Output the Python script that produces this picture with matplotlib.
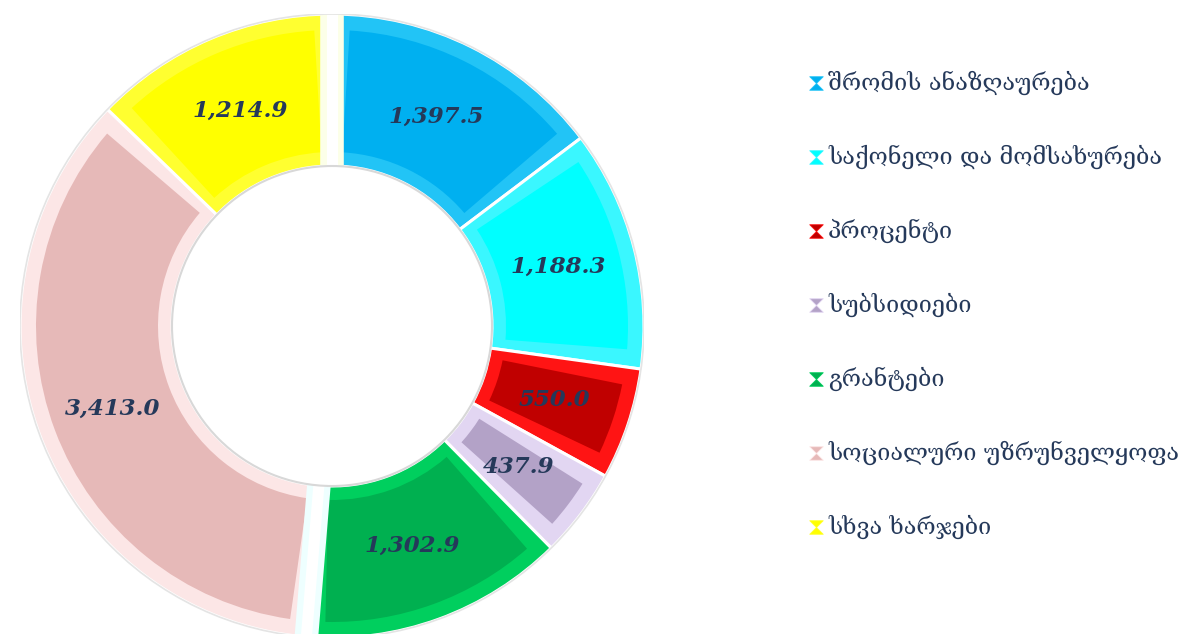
import numpy as np
import matplotlib
matplotlib.use("Agg")
import matplotlib.pyplot as plt
from matplotlib.patches import Wedge, Circle
from matplotlib.path import Path

# ---- data ----
categories = ["შრომის ანაზღაურება", "საქონელი და მომსახურება", "პროცენტი",
              "სუბსიდიები", "გრანტები", "სოციალური უზრუნველყოფა", "სხვა ხარჯები"]
values = [1397.5, 1188.3, 550.0, 437.9, 1302.9, 3413.0, 1214.9]
colors = ["#00B0F0", "#00FFFF", "#C00000", "#B3A2C7", "#00B050", "#E6B9B8", "#FFFF00"]
bevel_colors = ["#22C4F6", "#3AF7FF", "#FF1414", "#E2D6F2", "#00CF5E", "#FCE6E6", "#FFFF30"]
label_color = "#25395A"

W, H, DPI = 1201, 634, 100
fig = plt.figure(figsize=(W / DPI, H / DPI), dpi=DPI)
fig.patch.set_facecolor("white")

# pie axes: centre (332, 326) px from top-left, radius 312 px
cx, cy, Rpx = 332, 326, 312
ax = fig.add_axes([(cx - Rpx) / W, (H - cy - Rpx) / H, 2 * Rpx / W, 2 * Rpx / H])

r_in = 160 / Rpx
ring_w = 1 - r_in
wedges, _ = ax.pie(values, colors=bevel_colors, startangle=90, counterclock=False,
                   radius=1.0, wedgeprops=dict(width=ring_w, edgecolor="white", linewidth=2.2))
ax.set_xlim(-1, 1)
ax.set_ylim(-1, 1)
ax.set_aspect("equal")
ax.axis("off")

out_b = 16 / Rpx
in_b = 14 / Rpx
side_px = 14
for w, c in zip(wedges, colors):
    t1, t2 = w.theta1, w.theta2
    d = np.degrees(side_px / (0.75 * Rpx))
    ax.add_patch(Wedge((0, 0), 1 - out_b, t1 + d, t2 - d,
                       width=1 - out_b - (r_in + in_b), facecolor=c, edgecolor="none", zorder=3))

# highlight strips (3-D side faces) at two boundaries
for idx, sc in [(0, "#FCFFE8"), (5, "#EEFFFF")]:
    th = np.radians(wedges[idx].theta2)
    ax.plot([r_in * np.cos(th), np.cos(th)], [r_in * np.sin(th), np.sin(th)],
            color=sc, lw=17, solid_capstyle="butt", zorder=4)
    ax.plot([r_in * np.cos(th), np.cos(th)], [r_in * np.sin(th), np.sin(th)],
            color="white", lw=8, solid_capstyle="butt", zorder=4)

# soft outlines
ax.add_patch(Circle((0, 0), 1.0, fill=False, edgecolor="#E4E4E4", lw=1.2, zorder=5))
ax.add_patch(Circle((0, 0), r_in, fill=False, edgecolor="#D8D8D8", lw=1.5, zorder=5))

# value labels
r_lab = 0.75
for w, v in zip(wedges, values):
    th = np.radians((w.theta1 + w.theta2) / 2)
    ax.text(r_lab * np.cos(th), r_lab * np.sin(th), f"{v:,.1f}",
            ha="center", va="center", fontsize=16.5, fontweight="bold", fontstyle="italic",
            family="DejaVu Serif", color=label_color, zorder=6)

# legend
hourglass = Path([(-1, 1), (1, 1), (0, 0), (-1, 1), (0, 0), (1, -1), (-1, -1), (0, 0)],
                 [Path.MOVETO, Path.LINETO, Path.LINETO, Path.CLOSEPOLY,
                  Path.MOVETO, Path.LINETO, Path.LINETO, Path.CLOSEPOLY])
lax = fig.add_axes([0, 0, 1, 1], facecolor="none")
lax.set_xlim(0, W)
lax.set_ylim(H, 0)
lax.axis("off")
y0, dy = 83, 74
for i, (cat, c) in enumerate(zip(categories, colors)):
    y = y0 + i * dy
    lax.scatter([816], [y], marker=hourglass, s=95, color=c, edgecolors=bevel_colors[i], linewidths=0.6)
    lax.text(828, y, cat, ha="left", va="center", fontsize=16.8,
             family=["DejaVu Serif", "DejaVu Sans"], color=label_color)

fig.savefig("out.png", dpi=DPI, facecolor="white")
